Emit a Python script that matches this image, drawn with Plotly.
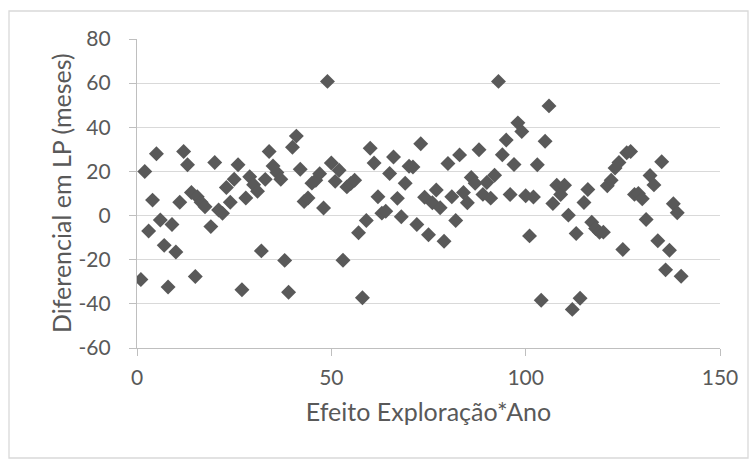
import plotly.graph_objects as go

# Efeito Exploração*Ano vs diferencial em LP (meses)
efeito = [
    1, 2, 3, 4, 5, 6, 7, 8, 9, 10,
    11, 12, 13, 14, 15, 15.5, 16.5, 17.5, 19, 20,
    21, 22, 23, 24, 25, 26, 27, 28, 29, 30,
    31, 32, 33, 34, 35, 36, 37, 38, 39, 40,
    41, 42, 43, 44, 45, 46, 47, 48, 49, 50,
    51, 52, 53, 54, 55, 56, 57, 58, 59, 60,
    61, 62, 63, 64, 65, 66, 67, 68, 69, 70,
    71, 72, 73, 74, 75, 76, 77, 78, 79, 80,
    81, 82, 83, 84, 85, 86, 87, 88, 89, 90,
    91, 92, 93, 94, 95, 96, 97, 98, 99, 100,
    101, 102, 103, 104, 105, 106, 107, 108, 109, 110,
    111, 112, 113, 114, 115, 116, 117, 118, 119, 120,
    121, 122, 123, 124, 125, 126, 127, 128, 129, 130,
    131, 132, 133, 134, 135, 136, 137, 138, 139, 140,
]
diferencial = [
    -29, 20, -7, 7, 28, -2, -13.5, -32.4, -4, -16.5,
    6, 29, 23, 10.5, -27.6, 8.5, 6, 4, -5, 24,
    2.5, 1, 12.7, 6, 16.5, 23, -33.6, 8, 17.6, 14,
    11, -16, 16.4, 29, 22.5, 19.5, 16.5, -20.3, -34.7, 31,
    36, 21, 6.4, 8, 14.7, 16, 19, 3.4, 60.8, 23.8,
    15.5, 20.5, -20.2, 13, 14.5, 16, -7.8, -37.2, -2.2, 30.5,
    23.8, 8.5, 1.1, 2, 19.1, 26.5, 7.8, -0.5, 14.6, 22.3,
    22, -4, 32.5, 8.3, -8.7, 5.8, 11.6, 3.5, -11.6, 23.6,
    8.5, -2.2, 27.5, 10.5, 5.8, 17.3, 14.6, 29.8, 9.6, 15,
    7.9, 18.3, 60.8, 27.6, 34.2, 9.5, 23.1, 42, 38.1, 9,
    -9.2, 8.4, 23, -38.4, 33.7, 49.7, 5.5, 13.7, 9.5, 13.7,
    0.2, -42.5, -8.1, -37.5, 5.9, 11.8, -3, -5.9, -7.6, -7.5,
    13.5, 16, 21.5, 24, -15.4, 28.5, 29, 9.6, 10, 7.6,
    -1.8, 18.2, 13.9, -11.4, 24.4, -24.6, -15.7, 5.4, 1.3, -27.5,
]

x_ticks = [0, 50, 100, 150]
y_ticks = [-60, -40, -20, 0, 20, 40, 60, 80]

TEXT = "#595959"
GRID = "#d9d9d9"
AXIS = "#bfbfbf"
FONT = "Lato"

fig = go.Figure(
    go.Scatter(
        x=efeito,
        y=diferencial,
        mode="markers",
        marker=dict(symbol="diamond", size=11.5, color="#595959", line=dict(width=0)),
        hoverinfo="x+y",
    )
)

W, H = 756, 459
L, R, T, B = 137, 36, 39, 111
pw, ph = W - L - R, H - T - B


def px_to_paper_x(px):
    return (px - L) / pw


def px_to_paper_y(py):
    return (H - B - py) / ph


fig.update_layout(
    width=W,
    height=H,
    margin=dict(l=L, r=R, t=T, b=B),
    paper_bgcolor="white",
    plot_bgcolor="white",
    showlegend=False,
    font=dict(family=FONT, color=TEXT, size=21),
    xaxis=dict(
        range=[0, 150],
        tickvals=x_ticks,
        ticktext=[str(v) for v in x_ticks],
        ticks="outside",
        ticklen=7,
        tickcolor=AXIS,
        tickwidth=1,
        showgrid=False,
        showline=True,
        linecolor=AXIS,
        linewidth=1.3,
        zeroline=False,
        tickfont=dict(size=21, color=TEXT),
        ticklabelstandoff=4,
        title=dict(text="Efeito Exploração*Ano", font=dict(size=25, color=TEXT), standoff=15),
    ),
    yaxis=dict(
        range=[-60, 80],
        tickvals=y_ticks,
        ticktext=[str(v) for v in y_ticks],
        ticks="outside",
        ticklen=7,
        tickcolor=AXIS,
        tickwidth=1,
        showgrid=True,
        gridcolor=GRID,
        gridwidth=1.3,
        showline=True,
        linecolor=AXIS,
        linewidth=1.3,
        zeroline=False,
        tickfont=dict(size=21, color=TEXT),
        ticklabelstandoff=14,
    ),
    annotations=[
        dict(
            text="Diferencial em LP (meses)",
            xref="paper",
            yref="paper",
            x=px_to_paper_x(61),
            y=px_to_paper_y(193),
            xanchor="center",
            yanchor="middle",
            textangle=-90,
            showarrow=False,
            font=dict(size=25, color=TEXT),
        )
    ],
    shapes=[
        dict(
            type="rect",
            xref="paper",
            yref="paper",
            x0=px_to_paper_x(9),
            x1=px_to_paper_x(748),
            y0=px_to_paper_y(458),
            y1=px_to_paper_y(11),
            line=dict(color=GRID, width=1.3),
            fillcolor="rgba(0,0,0,0)",
            layer="below",
        )
    ],
)

fig.write_html("out.html")
